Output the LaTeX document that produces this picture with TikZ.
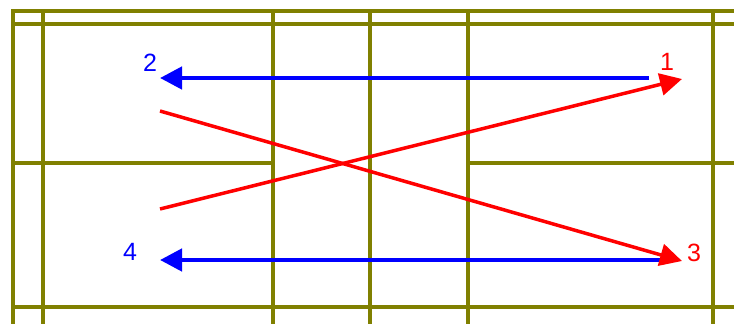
\documentclass[tikz,border=0pt]{standalone}
\usepackage{fontspec}
\setmainfont{Liberation Sans}
\usetikzlibrary{arrows.meta}

\begin{document}
\begin{tikzpicture}[x=1pt, y=-1pt]
  \tikzset{
    court/.style={line width=3.5pt, color=Olive, line cap=rect},
    pass/.style={line width=4pt, -{Triangle[length=22pt,width=22pt]}},
    num/.style={font=\fontsize{25}{27}\selectfont, inner sep=0pt},
  }
  \definecolor{Olive}{RGB}{128,128,0}
  \useasboundingbox (0,0) rectangle (734,324);

  % court lines
  \draw[court] (13,11)--(734,11);
  \draw[court] (13,24)--(734,24);
  \draw[court] (13,307)--(734,307);
  \draw[court] (13,163)--(273,163);
  \draw[court] (468,163)--(734,163);
  \foreach \x in {13,43,273,370,468,713} {
    \draw[court] (\x,11)--(\x,324);
  }

  % players
  \node[num, text=blue] (two) at (150,63) {2};
  \node[num, text=red] (one) at (667,62) {1};
  \node[num, text=red] (three) at (694,253) {3};
  \node[num, text=blue] (four) at (130,252) {4};

  \coordinate (b1) at (649,78);
  \coordinate (b2) at (160,78);
  \coordinate (b3) at (665,260);
  \coordinate (b4) at (160,260);
  \coordinate (r1) at (682,79);
  \coordinate (r2) at (160,111);
  \coordinate (r3) at (682,261);
  \coordinate (r4) at (160,209);

  % passes
  \draw[pass, color=blue, line width=4.5pt] (b1)--(b2);
  \draw[pass, color=blue, line width=4.5pt] (b3)--(b4);
  \draw[pass, color=red, line width=3.5pt] (r2)--(r3);
  \draw[pass, color=red, line width=3.5pt] (r4)--(r1);
\end{tikzpicture}
\end{document}
